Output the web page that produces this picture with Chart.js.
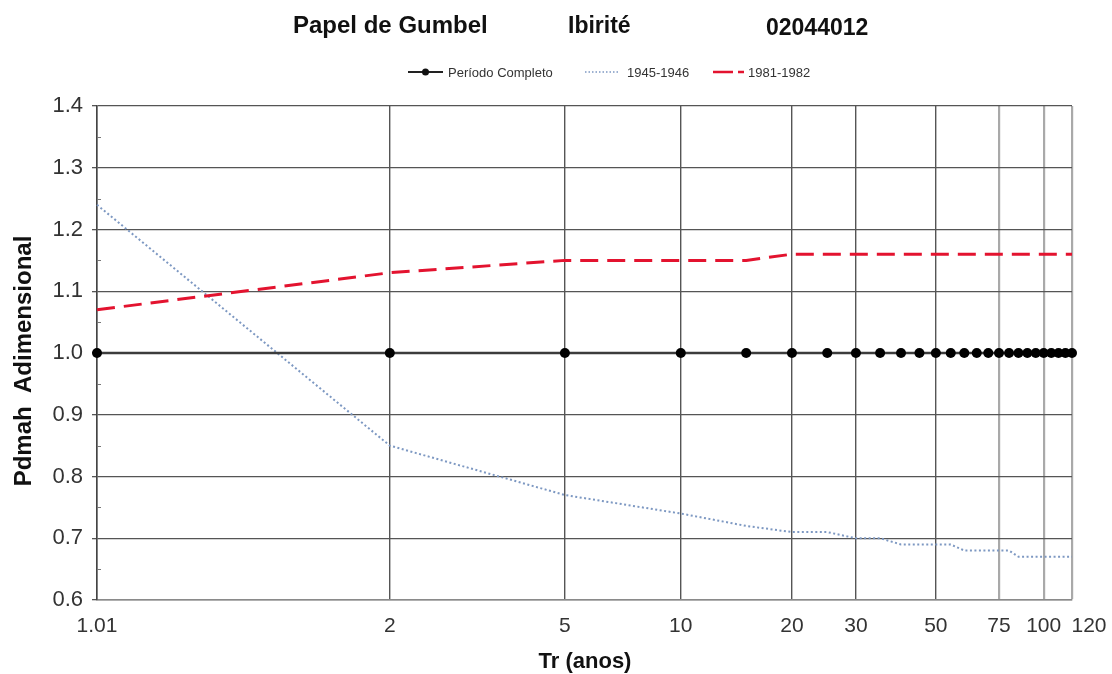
<!DOCTYPE html>
<html>
<head>
<meta charset="utf-8">
<script src="https://cdn.jsdelivr.net/npm/chart.js@4.4.1/dist/chart.umd.min.js"></script>
<style>
  html, body { margin: 0; padding: 0; background: #ffffff; }
  #wrap { width: 1112px; height: 674px; }
</style>
</head>
<body>
<div id="wrap"><canvas id="c" width="1112" height="674"></canvas></div>
<script>
// ---- Data ----
const chartTitleParts = ['Papel de Gumbel', 'Ibirité', '02044012'];
const returnPeriods = [1.01, 2, 5, 10, 15, 20, 25, 30, 35, 40, 45, 50, 55, 60, 65, 70, 75, 80, 85, 90, 95, 100, 105, 110, 115, 120];
const periodoCompleto = [1.00, 1.00, 1.00, 1.00, 1.00, 1.00, 1.00, 1.00, 1.00, 1.00, 1.00, 1.00, 1.00, 1.00, 1.00, 1.00, 1.00, 1.00, 1.00, 1.00, 1.00, 1.00, 1.00, 1.00, 1.00, 1.00];
const serie1945 = [1.24, 0.85, 0.77, 0.74, 0.72, 0.71, 0.71, 0.70, 0.70, 0.69, 0.69, 0.69, 0.69, 0.68, 0.68, 0.68, 0.68, 0.68, 0.67, 0.67, 0.67, 0.67, 0.67, 0.67, 0.67, 0.67];
const serie1981 = [1.07, 1.13, 1.15, 1.15, 1.15, 1.16, 1.16, 1.16, 1.16, 1.16, 1.16, 1.16, 1.16, 1.16, 1.16, 1.16, 1.16, 1.16, 1.16, 1.16, 1.16, 1.16, 1.16, 1.16, 1.16, 1.16];
const seriesNames = ['Período Completo', '1945-1946', '1981-1982'];
const xTickLabels = [1.01, 2, 5, 10, 20, 30, 50, 75, 100, 120];
const yTickValues = [0.6, 0.7, 0.8, 0.9, 1.0, 1.1, 1.2, 1.3, 1.4];
const yMinorTicks = [0.65, 0.75, 0.85, 0.95, 1.05, 1.15, 1.25, 1.35];
const xAxisTitle = 'Tr (anos)';
const yAxisTitle = 'Pdmah  Adimensional';

// Gumbel reduced variate for return period T
function gumbel(T) { return -Math.log(-Math.log(1 - 1 / T)); }
const pts = arr => returnPeriods.map((T, i) => ({ x: gumbel(T), y: arr[i] }));

const FONT = '"Liberation Sans", Arial, sans-serif';
const lastX = xTickLabels.length - 1;

const bgPlugin = {
  id: 'bg',
  beforeDraw(chart) {
    const ctx = chart.ctx;
    ctx.save();
    ctx.fillStyle = '#ffffff';
    ctx.fillRect(0, 0, chart.width, chart.height);
    ctx.restore();
  }
};

const decoPlugin = {
  id: 'deco',
  afterDraw(chart) {
    const ctx = chart.ctx;
    const ys = chart.scales.y;
    const xs = chart.scales.x;
    const area = chart.chartArea;
    ctx.save();
    // minor y ticks
    ctx.strokeStyle = '#777';
    ctx.lineWidth = 1;
    yMinorTicks.forEach(v => {
      const py = Math.round(ys.getPixelForValue(v)) + 0.5;
      ctx.beginPath();
      ctx.moveTo(area.left, py);
      ctx.lineTo(area.left + 4, py);
      ctx.stroke();
    });
    // last x label (placed right of the border, as in the original)
    ctx.fillStyle = '#333';
    ctx.font = '21px ' + FONT;
    ctx.textAlign = 'center';
    ctx.textBaseline = 'middle';
    ctx.fillText(String(xTickLabels[lastX]), xs.getPixelForValue(gumbel(xTickLabels[lastX])) + 17, 626.5);
    // title
    ctx.fillStyle = '#111';
    ctx.textBaseline = 'middle';
    ctx.textAlign = 'left';
    ctx.font = 'bold 24px ' + FONT;
    ctx.fillText(chartTitleParts[0], 293, 26);
    ctx.font = 'bold 23px ' + FONT;
    ctx.fillText(chartTitleParts[1], 568, 27);
    ctx.fillText(chartTitleParts[2], 766, 29);
    // axis titles
    ctx.font = 'bold 22px ' + FONT;
    ctx.textAlign = 'center';
    ctx.fillText(xAxisTitle, 585, 662);
    ctx.save();
    ctx.translate(24, 361);
    ctx.rotate(-Math.PI / 2);
    ctx.font = 'bold 24px ' + FONT;
    ctx.fillText(yAxisTitle, 0, 0);
    ctx.restore();
    // legend
    const ly = 72;
    ctx.font = '13px ' + FONT;
    ctx.textAlign = 'left';
    ctx.fillStyle = '#333';
    ctx.strokeStyle = '#222';
    ctx.lineWidth = 2;
    ctx.setLineDash([]);
    ctx.beginPath(); ctx.moveTo(408, ly); ctx.lineTo(443, ly); ctx.stroke();
    ctx.fillStyle = '#111';
    ctx.beginPath(); ctx.arc(425.5, ly, 3.5, 0, Math.PI * 2); ctx.fill();
    ctx.fillStyle = '#333';
    ctx.fillText(seriesNames[0], 448, ly + 1);
    ctx.strokeStyle = '#7d98c2';
    ctx.lineWidth = 1.5;
    ctx.setLineDash([1.5, 2]);
    ctx.beginPath(); ctx.moveTo(585, ly); ctx.lineTo(619, ly); ctx.stroke();
    ctx.setLineDash([]);
    ctx.fillText(seriesNames[1], 627, ly + 1);
    ctx.strokeStyle = '#e3132f';
    ctx.lineWidth = 2.5;
    ctx.setLineDash([20, 5, 6, 100]);
    ctx.beginPath(); ctx.moveTo(713, ly); ctx.lineTo(745, ly); ctx.stroke();
    ctx.setLineDash([]);
    ctx.fillText(seriesNames[2], 748, ly + 1);
    ctx.restore();
  }
};

new Chart(document.getElementById('c'), {
  type: 'line',
  data: {
    datasets: [
      {
        label: seriesNames[0],
        data: pts(periodoCompleto),
        borderColor: '#3c3c3c',
        borderWidth: 2.5,
        pointRadius: 5,
        pointBackgroundColor: '#000',
        pointBorderColor: '#000',
        pointBorderWidth: 0,
        tension: 0,
        clip: false,
        order: 1
      },
      {
        label: seriesNames[1],
        data: pts(serie1945),
        borderColor: '#7d98c2',
        borderWidth: 2,
        borderDash: [2, 2.5],
        pointRadius: 0,
        tension: 0,
        clip: false,
        order: 3
      },
      {
        label: seriesNames[2],
        data: pts(serie1981),
        borderColor: '#e3132f',
        borderWidth: 3,
        borderDash: [18, 9],
        pointRadius: 0,
        tension: 0,
        clip: false,
        order: 2
      }
    ]
  },
  options: {
    responsive: false,
    animation: false,
    devicePixelRatio: 1,
    layout: { padding: { top: 106, right: 40, left: 0, bottom: 0 } },
    plugins: {
      legend: { display: false },
      title: { display: false },
      tooltip: { enabled: false }
    },
    scales: {
      x: {
        type: 'linear',
        min: gumbel(xTickLabels[0]),
        max: gumbel(xTickLabels[lastX]),
        afterBuildTicks(scale) {
          scale.ticks = xTickLabels.map(T => ({ value: gumbel(T) }));
        },
        afterFit(scale) { scale.height = 74; },
        ticks: {
          autoSkip: false,
          maxRotation: 0,
          padding: 14,
          color: '#333',
          font: { family: FONT, size: 21 },
          callback(value, index) { return index === lastX ? '' : String(xTickLabels[index]); }
        },
        grid: {
          drawTicks: false,
          tickLength: 0,
          color(c) { const T = xTickLabels[c.index]; return T >= 75 ? '#a9a9a9' : '#555'; },
          lineWidth(c) { const T = xTickLabels[c.index]; return T >= 75 ? 2.2 : 1.4; }
        },
        border: { display: true, color: '#8a8a8a', width: 1.5 }
      },
      y: {
        type: 'linear',
        min: 0.6,
        max: 1.4,
        afterBuildTicks(scale) {
          scale.ticks = yTickValues.map(v => ({ value: v }));
        },
        afterFit(scale) { scale.width = 97; },
        ticks: {
          padding: 9,
          color: '#333',
          font: { family: FONT, size: 22 },
          callback(value) { return Number(value).toFixed(1); }
        },
        grid: {
          drawTicks: true,
          tickLength: 5,
          color: '#555',
          lineWidth: 1.3
        },
        border: { display: true, color: '#444', width: 1.5 }
      }
    }
  },
  plugins: [bgPlugin, decoPlugin]
});
</script>
</body>
</html>
